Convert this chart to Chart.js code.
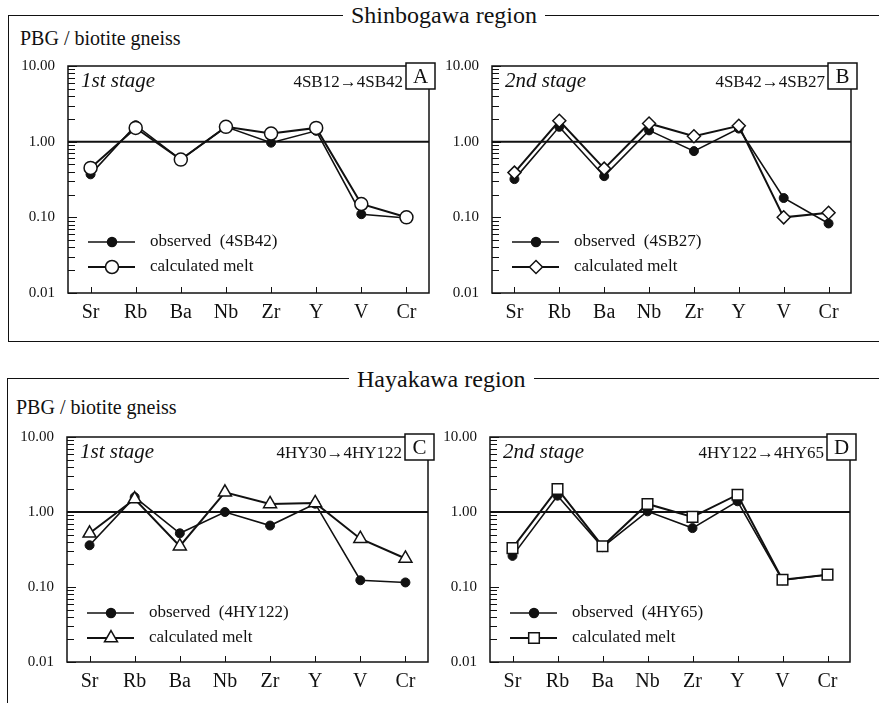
<!DOCTYPE html>
<html>
<head>
<meta charset="utf-8">
<script src="https://cdn.jsdelivr.net/npm/chart.js@4/dist/chart.umd.min.js"></script>
<style>
  body { margin: 0; background: #fff; width: 879px; height: 703px; overflow: hidden; position: relative;
         font-family: "Liberation Serif", "Times New Roman", serif; color: #111; }
  .frame { position: absolute; border: 1.5px solid #111; border-right: none; }
  .rtitle { position: absolute; font-size: 24px; line-height: 1; background: #fff; padding: 0 8px; white-space: nowrap; }
  .ylab { position: absolute; font-size: 20px; line-height: 1; white-space: nowrap; }
  canvas { position: absolute; }
</style>
</head>
<body>
<div class="frame" style="left:8px;top:15px;width:900px;height:325px"></div>
<div class="frame" style="left:7px;top:378px;width:900px;height:400px"></div>
<div class="rtitle" style="left:343px;top:3px">Shinbogawa region</div>
<div class="rtitle" style="left:349px;top:367px">Hayakawa region</div>
<div class="ylab" style="left:20px;top:28px">PBG / biotite gneiss</div>
<div class="ylab" style="left:16px;top:397px">PBG / biotite gneiss</div>

<canvas id="chartA"></canvas>
<canvas id="chartB"></canvas>
<canvas id="chartC"></canvas>
<canvas id="chartD"></canvas>

<script>
// elements on the x axis
const elements = ['Sr', 'Rb', 'Ba', 'Nb', 'Zr', 'Y', 'V', 'Cr'];
const yTicks = [0.01, 0.1, 1, 10];

// A: Shinbogawa 1st stage
const obsA  = [0.37, 1.65, 0.58, 1.57, 0.97, 1.39, 0.11, 0.098];
const calcA = [0.45, 1.52, 0.58, 1.57, 1.28, 1.52, 0.15, 0.10];
// B: Shinbogawa 2nd stage
const obsB  = [0.32, 1.57, 0.35, 1.41, 0.75, 1.49, 0.18, 0.083];
const calcB = [0.39, 1.89, 0.44, 1.74, 1.18, 1.62, 0.10, 0.115];
// C: Hayakawa 1st stage
const obsC  = [0.36, 1.58, 0.52, 1.00, 0.66, 1.29, 0.123, 0.115];
const calcC = [0.52, 1.49, 0.35, 1.83, 1.28, 1.32, 0.44, 0.24];
// D: Hayakawa 2nd stage
const obsD  = [0.26, 1.65, 0.34, 1.02, 0.61, 1.39, 0.123, 0.146];
const calcD = [0.33, 2.03, 0.35, 1.28, 0.86, 1.70, 0.125, 0.146];

const INK = '#111';
const SERIF = '"Liberation Serif", "Times New Roman", serif';

function drawMarker(ctx, style, r, x, y, filled) {
    if (Chart.helpers && Chart.helpers.drawPoint) {
        ctx.save();
        ctx.fillStyle = filled ? INK : '#fff';
        ctx.strokeStyle = INK;
        ctx.lineWidth = 1.5;
        Chart.helpers.drawPoint(ctx, { pointStyle: style, radius: r, rotation: 0, borderWidth: 1.5 }, x, y);
        ctx.restore();
        return;
    }
    ctx.save();
    ctx.beginPath();
    ctx.arc(x, y, r, 0, Math.PI * 2);
    ctx.fillStyle = filled ? INK : '#fff';
    ctx.fill();
    ctx.strokeStyle = INK;
    ctx.lineWidth = 1.5;
    ctx.stroke();
    ctx.restore();
}

function makePanel(id, canvasBox, plot, p) {
    const el = document.getElementById(id);
    el.style.left = canvasBox.x + 'px';
    el.style.top = canvasBox.y + 'px';
    el.width = canvasBox.w;
    el.height = canvasBox.h;
    el.style.width = canvasBox.w + 'px';
    el.style.height = canvasBox.h + 'px';

    const yW = 60, xH = 30;

    const deco = {
        id: 'deco' + id,
        beforeDatasetsDraw(chart) {
            const { ctx, chartArea: a, scales: { y } } = chart;
            const y1 = y.getPixelForValue(1);
            ctx.save();
            ctx.strokeStyle = INK;
            ctx.lineWidth = 2;
            ctx.beginPath();
            ctx.moveTo(a.left, y1);
            ctx.lineTo(a.right, y1);
            ctx.stroke();
            ctx.restore();
        },
        afterDraw(chart) {
            const { ctx, chartArea: a, scales: { x, y } } = chart;
            ctx.save();
            ctx.strokeStyle = INK;
            ctx.fillStyle = INK;

            // plot frame
            ctx.lineWidth = 1.5;
            ctx.strokeRect(a.left, a.top, a.right - a.left, a.bottom - a.top);

            // inward ticks on y axis (decades + minor)
            ctx.lineWidth = 1;
            ctx.beginPath();
            for (let i = 0; i < yTicks.length; i++) {
                const d = yTicks[i];
                const py = Math.round(y.getPixelForValue(d)) + 0.5;
                ctx.moveTo(a.left, py); ctx.lineTo(a.left + 9, py);
                if (i < yTicks.length - 1) {
                    for (let m = 2; m <= 9; m++) {
                        const my = Math.round(y.getPixelForValue(d * m)) + 0.5;
                        ctx.moveTo(a.left, my); ctx.lineTo(a.left + 7, my);
                    }
                }
            }
            // inward ticks on x axis
            elements.forEach((e, i) => {
                const px = Math.round(x.getPixelForValue(i)) + 0.5;
                ctx.moveTo(px, a.bottom); ctx.lineTo(px, a.bottom - 6);
            });
            ctx.stroke();

            // stage label
            ctx.font = 'italic 21px ' + SERIF;
            ctx.textAlign = 'left';
            ctx.textBaseline = 'alphabetic';
            ctx.fillText(p.stage, a.left + 13, a.top + 21);

            // letter box
            const bx = a.right - 23, by = a.top - 3, bw = 29, bh = 26;
            ctx.fillStyle = '#fff';
            ctx.fillRect(bx, by, bw, bh);
            ctx.lineWidth = 1.5;
            ctx.strokeRect(bx, by, bw, bh);
            ctx.fillStyle = INK;
            ctx.font = '21px ' + SERIF;
            ctx.textAlign = 'center';
            ctx.fillText(p.letter, bx + bw / 2, by + 20);

            // transition label
            ctx.font = '17px ' + SERIF;
            ctx.textAlign = 'right';
            ctx.fillText(p.trans, bx - 3, a.top + 21);

            // legend
            const rows = [
                { y: a.top + 176, text: p.obsLabel, style: 'circle', r: 4.5, filled: true, lw: 1.5 },
                { y: a.top + 201, text: 'calculated melt', style: p.marker, r: p.radius, filled: false, lw: 2 }
            ];
            rows.forEach(row => {
                ctx.lineWidth = row.lw;
                ctx.beginPath();
                ctx.moveTo(a.left + 20, row.y);
                ctx.lineTo(a.left + 67, row.y);
                ctx.stroke();
                drawMarker(ctx, row.style, row.r, a.left + 44, row.y, row.filled);
                ctx.fillStyle = INK;
                ctx.font = '17px ' + SERIF;
                ctx.textAlign = 'left';
                ctx.textBaseline = 'middle';
                ctx.fillText(row.text, a.left + 82, row.y);
            });
            ctx.restore();
        }
    };

    return new Chart(el, {
        type: 'line',
        data: {
            labels: elements,
            datasets: [
                {
                    label: p.obsLabel,
                    data: p.obs,
                    borderColor: INK,
                    borderWidth: 1.6,
                    pointStyle: 'circle',
                    pointRadius: 4.5,
                    pointBackgroundColor: INK,
                    pointBorderColor: INK,
                    pointBorderWidth: 1,
                    tension: 0,
                    order: 2
                },
                {
                    label: 'calculated melt',
                    data: p.calc,
                    borderColor: INK,
                    borderWidth: 2,
                    pointStyle: p.marker,
                    pointRadius: p.radius,
                    pointBackgroundColor: '#fff',
                    pointBorderColor: INK,
                    pointBorderWidth: 1.5,
                    tension: 0,
                    order: 1
                }
            ]
        },
        options: {
            responsive: false,
            animation: false,
            events: [],
            layout: {
                padding: {
                    left: plot.l - canvasBox.x - yW,
                    top: plot.t - canvasBox.y,
                    right: canvasBox.x + canvasBox.w - plot.r,
                    bottom: canvasBox.y + canvasBox.h - plot.b - xH
                }
            },
            plugins: { legend: { display: false }, tooltip: { enabled: false } },
            scales: {
                x: {
                    type: 'category',
                    offset: true,
                    grid: { display: false },
                    border: { display: false },
                    ticks: { color: INK, font: { family: SERIF, size: 20 }, padding: 0, maxRotation: 0, autoSkip: false },
                    afterFit: s => { s.height = xH; }
                },
                y: {
                    type: 'logarithmic',
                    min: 0.01,
                    max: 10,
                    grid: { display: false },
                    border: { display: false },
                    afterBuildTicks: s => { s.ticks = yTicks.map(v => ({ value: v })); },
                    ticks: {
                        color: INK,
                        font: { family: SERIF, size: 15 },
                        padding: 5,
                        autoSkip: false,
                        callback: v => Number(v).toFixed(2)
                    },
                    afterFit: s => { s.width = yW; }
                }
            }
        },
        plugins: [deco]
    });
}

makePanel('chartA', { x: 0, y: 40, w: 440, h: 300 }, { l: 68, t: 66, r: 429, b: 293 },
    { obs: obsA, calc: calcA, stage: '1st stage', trans: '4SB12\u21924SB42', letter: 'A',
      obsLabel: 'observed  (4SB42)', marker: 'circle', radius: 6.5 });
makePanel('chartB', { x: 440, y: 40, w: 439, h: 300 }, { l: 492, t: 66, r: 851, b: 293 },
    { obs: obsB, calc: calcB, stage: '2nd stage', trans: '4SB42\u21924SB27', letter: 'B',
      obsLabel: 'observed  (4SB27)', marker: 'rectRot', radius: 6.5 });
makePanel('chartC', { x: 0, y: 410, w: 440, h: 293 }, { l: 67, t: 437, r: 428, b: 662 },
    { obs: obsC, calc: calcC, stage: '1st stage', trans: '4HY30\u21924HY122', letter: 'C',
      obsLabel: 'observed  (4HY122)', marker: 'triangle', radius: 7.5 });
makePanel('chartD', { x: 440, y: 410, w: 439, h: 293 }, { l: 490, t: 437, r: 850, b: 662 },
    { obs: obsD, calc: calcD, stage: '2nd stage', trans: '4HY122\u21924HY65', letter: 'D',
      obsLabel: 'observed  (4HY65)', marker: 'rect', radius: 7.5 });
</script>
</body>
</html>
